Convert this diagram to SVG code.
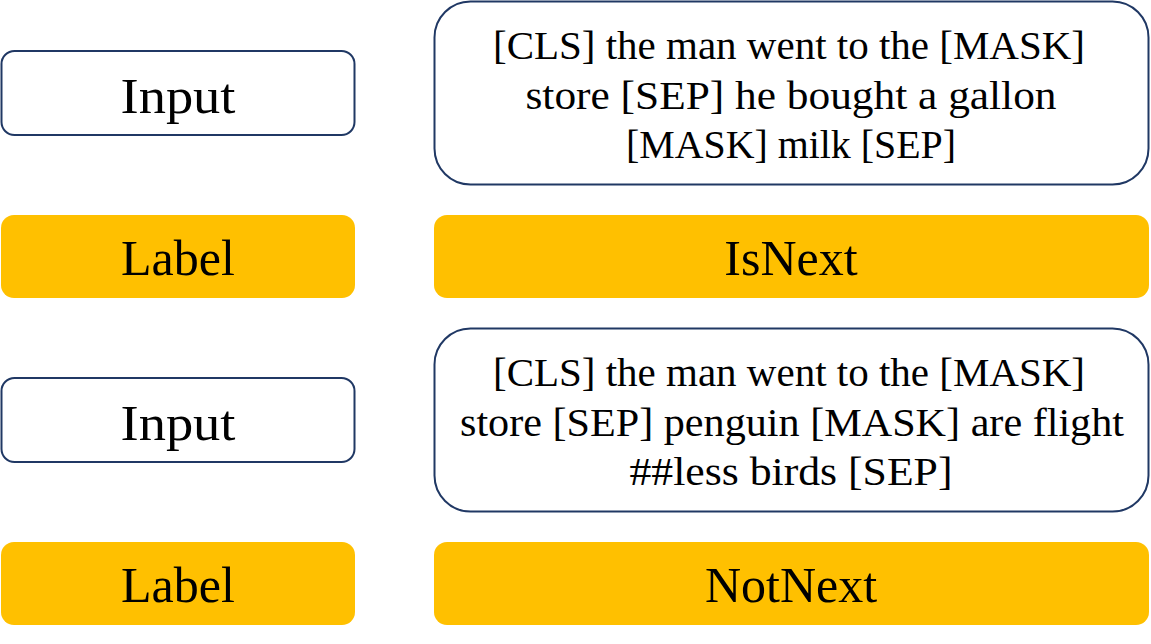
<svg xmlns="http://www.w3.org/2000/svg" width="1151" height="644" viewBox="0 0 1151 644">
<style>
.in{fill:#ffffff;stroke:#203864;stroke-width:2}
.lb{fill:#ffc000;stroke:none}
text{font-family:"Liberation Serif","Times New Roman",serif;fill:#000;text-anchor:middle}
.big{font-size:50px}
.sm{font-size:41px}
</style>
<rect width="1151" height="644" fill="#ffffff"/>
<g id="input1">
<rect class="in" x="1.5" y="51" width="353" height="84" rx="13"/>
<text class="big" x="178" y="113" textLength="115" lengthAdjust="spacingAndGlyphs">Input</text>
</g>
<g id="sentence1">
<rect class="in" x="434.5" y="1.5" width="714" height="183" rx="36"/>
<text class="sm" x="789" y="59" textLength="592" lengthAdjust="spacingAndGlyphs">[CLS] the man went to the [MASK]</text>
<text class="sm" x="791" y="109" textLength="531" lengthAdjust="spacingAndGlyphs">store [SEP] he bought a gallon</text>
<text class="sm" x="791" y="158" textLength="330" lengthAdjust="spacingAndGlyphs">[MASK] milk [SEP]</text>
</g>
<g id="label1">
<rect class="lb" x="1" y="215" width="354" height="83" rx="13"/>
<text class="big" x="178" y="275">Label</text>
</g>
<g id="isnext">
<rect class="lb" x="434" y="215" width="715" height="83" rx="13"/>
<text class="big" x="791" y="275">IsNext</text>
</g>
<g id="input2">
<rect class="in" x="1.5" y="378" width="353" height="84" rx="13"/>
<text class="big" x="178" y="440" textLength="115" lengthAdjust="spacingAndGlyphs">Input</text>
</g>
<g id="sentence2">
<rect class="in" x="434.5" y="328.5" width="714" height="183" rx="36"/>
<text class="sm" x="789" y="386" textLength="592" lengthAdjust="spacingAndGlyphs">[CLS] the man went to the [MASK]</text>
<text class="sm" x="792" y="436" textLength="664" lengthAdjust="spacingAndGlyphs">store [SEP] penguin [MASK] are flight</text>
<text class="sm" x="791" y="485" textLength="323" lengthAdjust="spacingAndGlyphs">##less birds [SEP]</text>
</g>
<g id="label2">
<rect class="lb" x="1" y="542" width="354" height="83" rx="13"/>
<text class="big" x="178" y="602">Label</text>
</g>
<g id="notnext">
<rect class="lb" x="434" y="542" width="715" height="83" rx="13"/>
<text class="big" x="791" y="602">NotNext</text>
</g>
<g id="connectors"></g>
</svg>
